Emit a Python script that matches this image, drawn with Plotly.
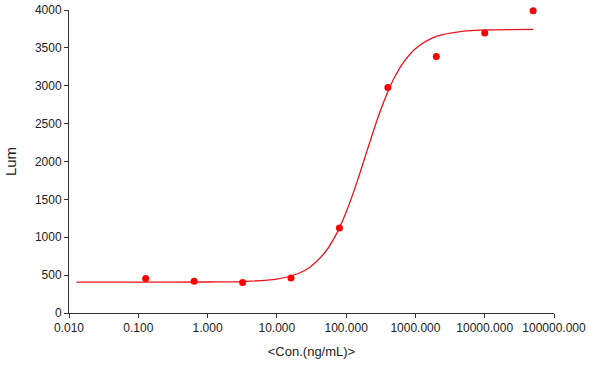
import plotly.graph_objects as go

# Measured points (5-fold dilution series)
conc = [0.128, 0.64, 3.2, 16, 80, 400, 2000, 10000, 50000]
lum = [455, 420, 402, 463, 1122, 2976, 3386, 3696, 3990]

# Fitted curve
curve_x = [0.0128, 0.1, 1, 3, 10, 20, 30, 50, 70, 100, 150, 200, 300, 400, 500,
           700, 1000, 2000, 5000, 10000, 50000]
curve_y = [408, 408, 409, 415, 448, 518, 605, 805, 1018, 1330, 1783, 2140, 2627,
           2922, 3112, 3331, 3490, 3651, 3721, 3736, 3743]

x_tickvals = [0.01, 0.1, 1, 10, 100, 1000, 10000, 100000]
x_ticktext = ["0.010", "0.100", "1.000", "10.000", "100.000", "1000.000",
              "10000.000", "100000.000"]
y_tickvals = [0, 500, 1000, 1500, 2000, 2500, 3000, 3500, 4000]

fig = go.Figure()
fig.add_trace(go.Scatter(x=curve_x, y=curve_y, mode="lines", line_shape="spline",
                         line=dict(color="#e8141c", width=1.3), hoverinfo="skip"))
fig.add_trace(go.Scatter(x=conc, y=lum, mode="markers", cliponaxis=False,
                         marker=dict(color="#ff0000", size=7)))

axis_common = dict(showgrid=False, zeroline=False, showline=True, linecolor="#333333",
                   linewidth=1, ticks="outside", ticklen=4, tickcolor="#333333",
                   automargin=False,
                   tickfont=dict(family="Liberation Sans, Arial", size=12, color="#222222"))

fig.update_layout(
    width=589, height=367,
    margin=dict(l=69, r=35, t=10, b=54),
    paper_bgcolor="white", plot_bgcolor="white",
    showlegend=False,
    xaxis=dict(type="log", range=[-2, 5], tickvals=x_tickvals, ticktext=x_ticktext,
               title=dict(text="&lt;Con.(ng/mL)&gt;", font=dict(family="Liberation Sans, Arial", size=13, color="#222222"), standoff=12),
               **axis_common),
    yaxis=dict(range=[0, 4000], tickvals=y_tickvals,
               title=dict(text="Lum", font=dict(family="Liberation Sans, Arial", size=15, color="#222222"), standoff=14),
               **axis_common),
)

fig.write_html("out.html",
               config={"displayModeBar": False, "staticPlot": True},
               post_script="document.body.style.margin='0';document.body.style.overflow='hidden';")
